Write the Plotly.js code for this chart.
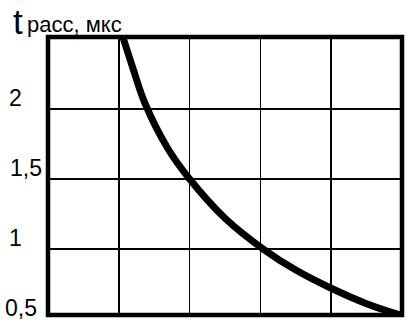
<!DOCTYPE html>
<html>
<head>
<meta charset="utf-8">
<script src="https://cdn.plot.ly/plotly-3.0.1.min.js"></script>
<style>html,body{margin:0;padding:0;background:#fff;}#chart{width:406px;height:327px;}</style>
</head>
<body>
<div id="chart"></div>
<script>
// Data
const xValues = [1.06, 1.2, 1.37, 1.69, 2.0, 2.5, 3.04, 3.5, 4.0, 4.5, 4.97];
const tValues = [2.51, 2.29, 2.04, 1.72, 1.5, 1.22, 1.0, 0.85, 0.72, 0.61, 0.53];
const yTickVals = [0.5, 1, 1.5, 2];
const yTickText = ["0,5", "1", "1,5", "2"];
const axisTitleMain = "t";
const axisTitleSub = "расс, мкс";

// Layout-only settings
const yRange = [0.529, 2.514];
const labelXShift = [-27, -33, -22, -33];
const font = "Liberation Sans, Arial, Helvetica, sans-serif";

const annotations = yTickVals.map((v, i) => ({
  xref: 'paper', yref: 'paper', x: 0, y: (v - yRange[0]) / (yRange[1] - yRange[0]),
  xanchor: 'center', yanchor: 'middle',
  xshift: labelXShift[i], yshift: 11,
  text: yTickText[i], showarrow: false,
  font: {family: font, size: 23, color: '#000'}
}));
annotations.push({
  xref: 'paper', yref: 'paper', x: 0, y: 1, xanchor: 'center', yanchor: 'middle',
  xshift: -30, yshift: 16, text: axisTitleMain, showarrow: false,
  font: {family: font, size: 35, color: '#000'}
});
annotations.push({
  xref: 'paper', yref: 'paper', x: 0, y: 1, xanchor: 'left', yanchor: 'middle',
  xshift: -23, yshift: 13, text: axisTitleSub, showarrow: false,
  font: {family: font, size: 22, color: '#000'}
});

const trace = {
  x: xValues, y: tValues, type: 'scatter', mode: 'lines',
  line: {color: '#000', width: 7, shape: 'spline', smoothing: 1},
  hoverinfo: 'skip'
};

const layout = {
  width: 406, height: 327,
  margin: {l: 48, r: 4, t: 37, b: 12, pad: 0},
  paper_bgcolor: '#fff', plot_bgcolor: '#fff',
  showlegend: false,
  xaxis: {range: [0, 5], dtick: 1, tick0: 0, showticklabels: false, ticks: '',
          showgrid: true, gridcolor: '#000', gridwidth: 1.5, zeroline: false, showline: false},
  yaxis: {range: yRange, tickvals: [1, 1.5, 2], showticklabels: false, ticks: '',
          showgrid: true, gridcolor: '#000', gridwidth: 1.5, zeroline: false, showline: false},
  shapes: [{type: 'rect', xref: 'paper', yref: 'paper', x0: 0, x1: 1, y0: 0, y1: 1,
            line: {color: '#000', width: 4.5}}],
  annotations: annotations
};

Plotly.newPlot('chart', [trace], layout, {staticPlot: true, displayModeBar: false});
</script>
</body>
</html>
